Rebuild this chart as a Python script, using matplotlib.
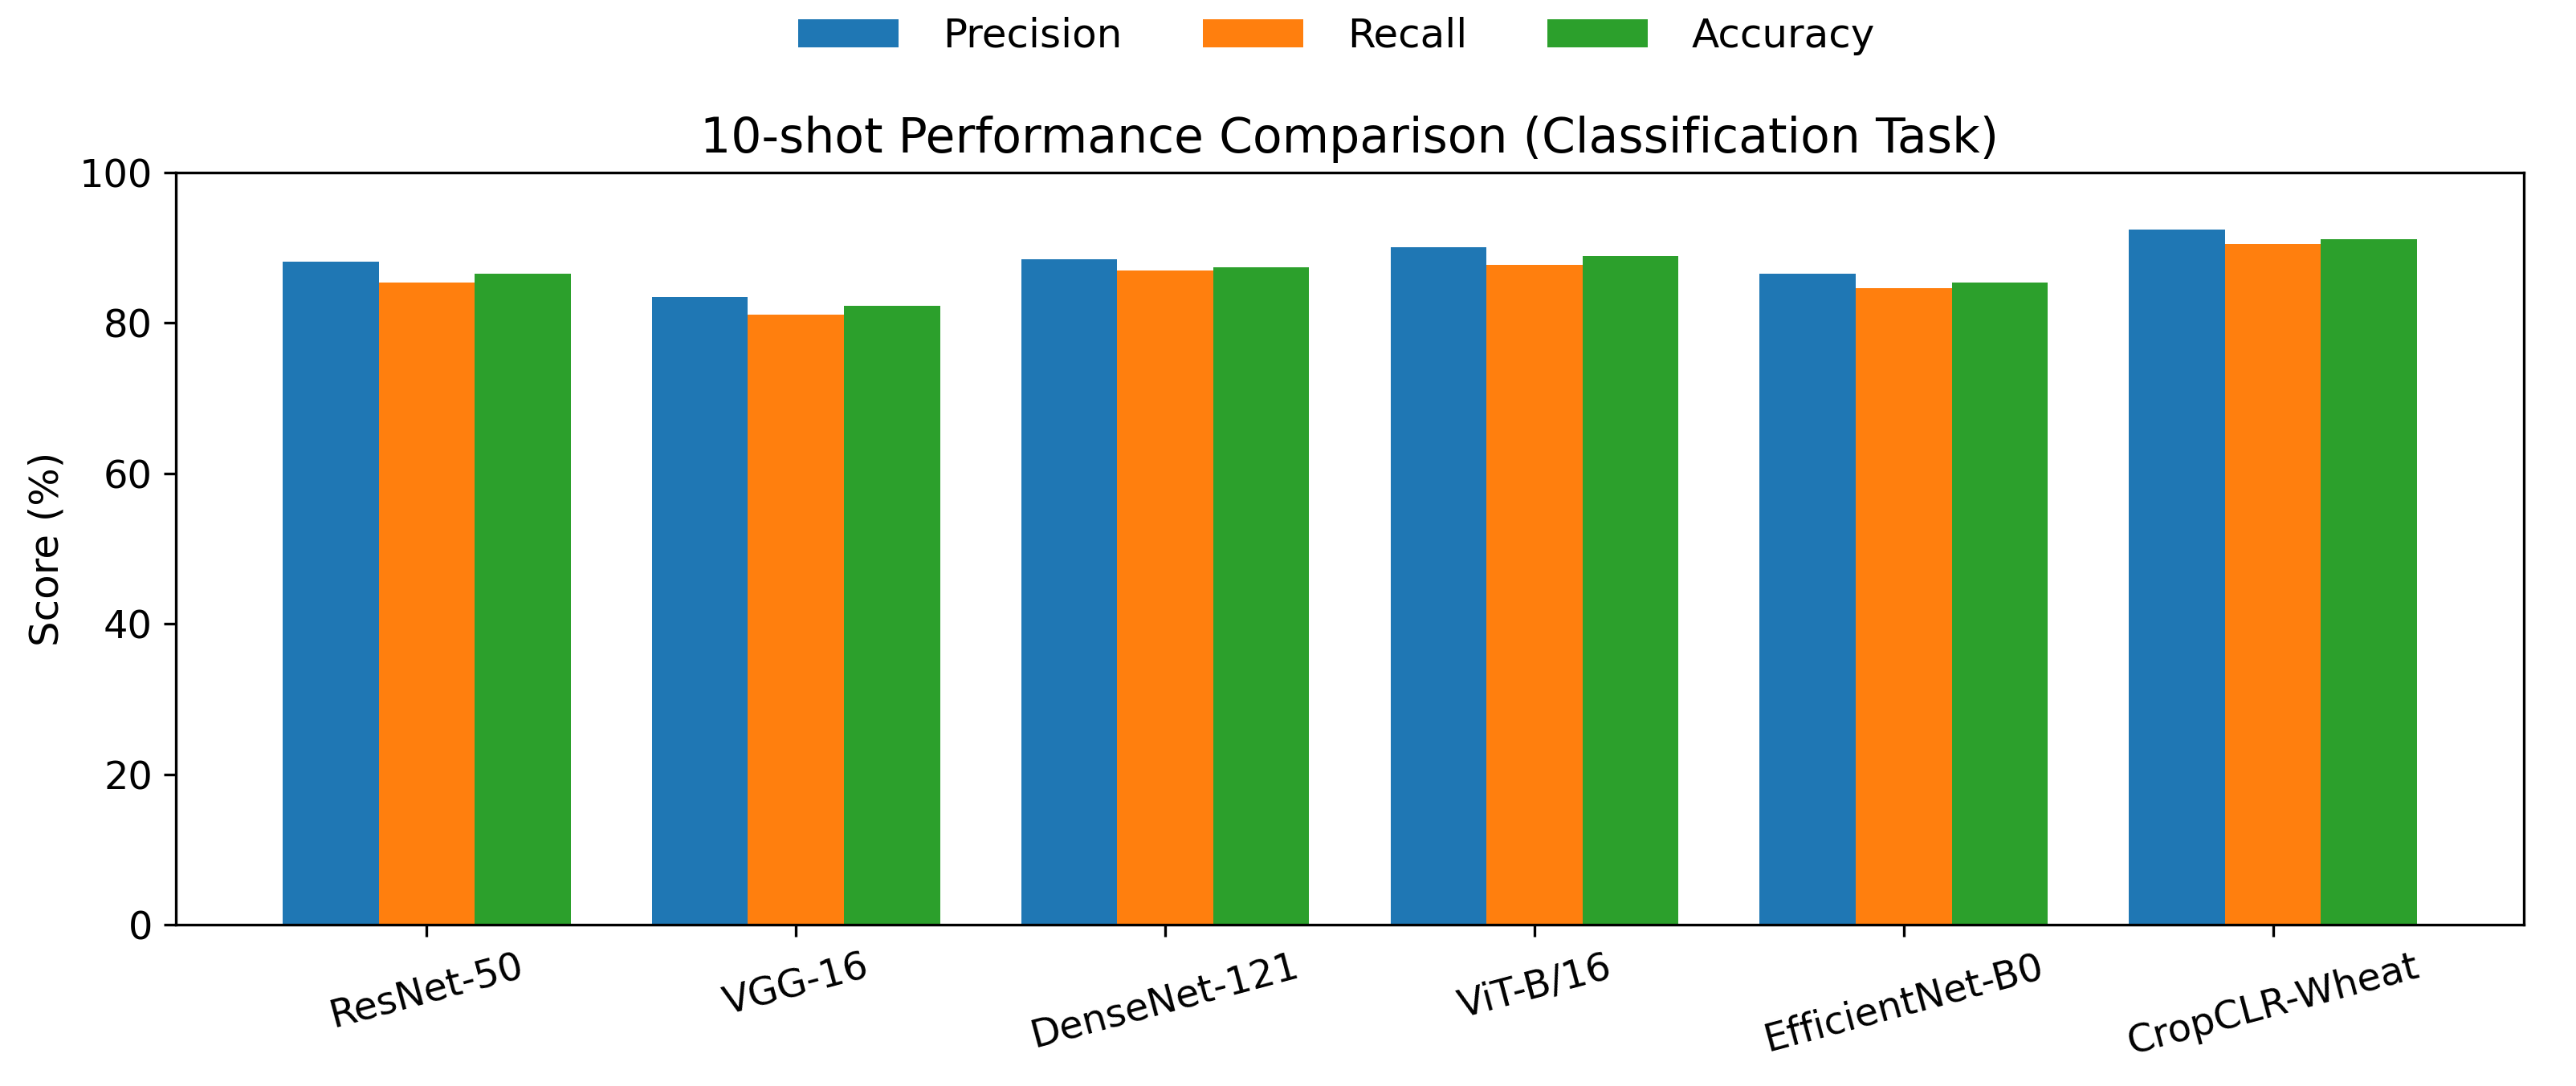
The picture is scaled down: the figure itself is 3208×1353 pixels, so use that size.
import numpy as np
import matplotlib
matplotlib.use('Agg')
import matplotlib.pyplot as plt

plt.rcParams['font.size'] = 12

# データ-------------------------
models = ['ResNet-50', 'VGG-16', 'DenseNet-121', 'ViT-B/16', 'EfficientNet-B0', 'CropCLR-Wheat']
precision = [88.2, 83.5, 88.5, 90.1, 86.6, 92.4]
recall = [85.4, 81.1, 87.0, 87.7, 84.6, 90.5]
accuracy = [86.6, 82.3, 87.4, 88.9, 85.4, 91.2]

# グラフ化-------------------------
fig, ax = plt.subplots(figsize=(3208 / 300, 1353 / 300), dpi=300)
fig.subplots_adjust(left=0.0683, right=0.9797, top=0.841, bottom=0.1486)

x = np.arange(len(models))
w = 0.26
ax.bar(x - w, precision, w, label='Precision', color='#1f77b4')
ax.bar(x, recall, w, label='Recall', color='#ff7f0e')
ax.bar(x + w, accuracy, w, label='Accuracy', color='#2ca02c')

ax.set_ylim(0, 100)
ax.set_xticks(x)
ax.set_xticklabels(models, rotation=15)
ax.tick_params(labelsize=11.5)
ax.set_ylabel('Score (%)')
ax.set_title('10-shot Performance Comparison (Classification Task)', fontsize=14.4)
fig.legend(loc='center', bbox_to_anchor=(0.519, 0.967), ncol=3, frameon=False,
           handlelength=2.5, handletextpad=1.1, columnspacing=2.0)

plt.savefig('out.png', dpi=300)
